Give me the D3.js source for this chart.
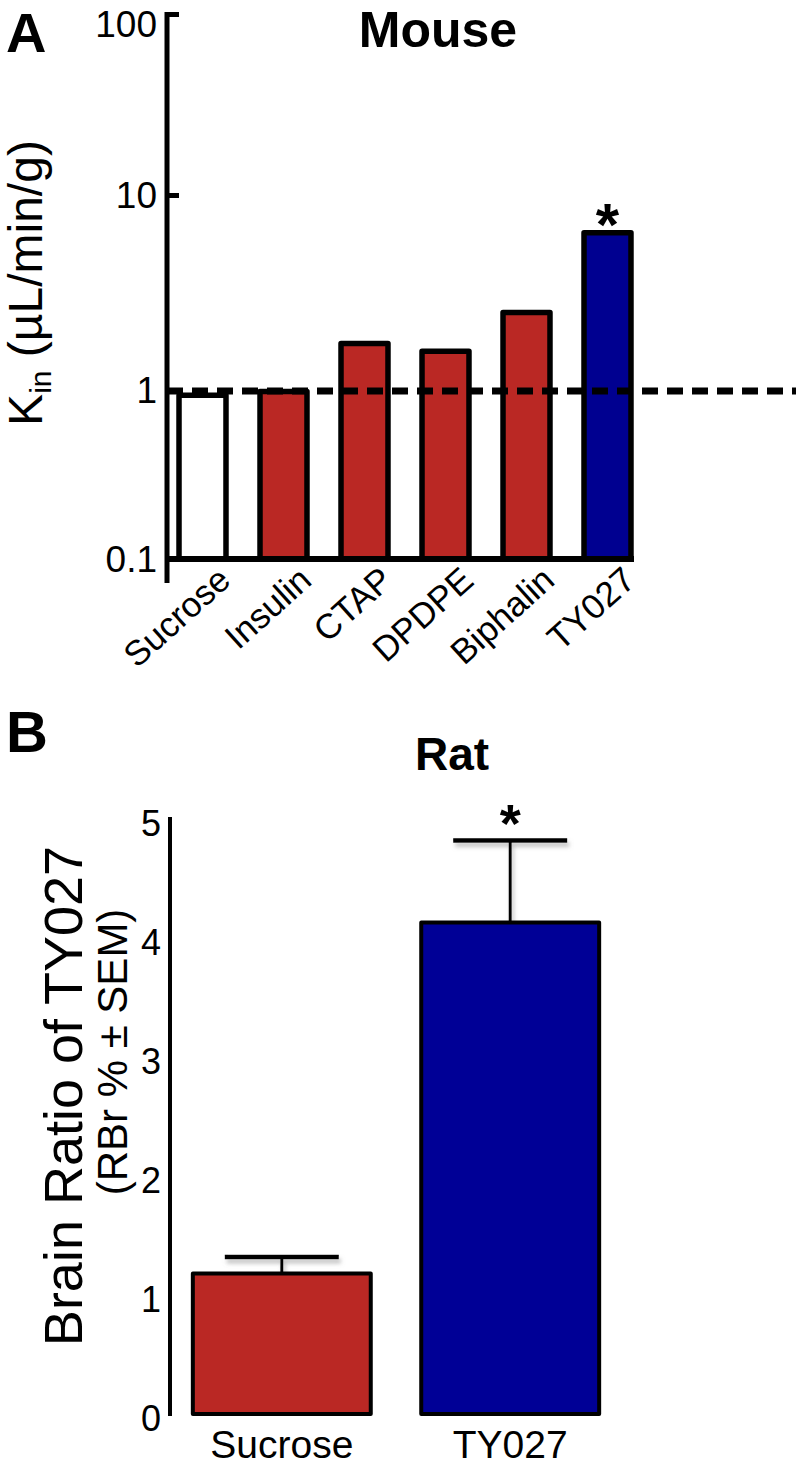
<!DOCTYPE html>
<html>
<head>
<meta charset="utf-8">
<script src="https://cdn.jsdelivr.net/npm/d3@7"></script>
<style>
  html, body { margin: 0; padding: 0; background: #fff; }
  svg { display: block; font-family: "Liberation Sans", Arial, sans-serif; }
</style>
</head>
<body>
<svg id="chart" width="798" height="1465"></svg>
<script>
// ---- Panel A (Mouse) data ----
const mouseCategories = ["Sucrose", "Insulin", "CTAP", "DPDPE", "Biphalin", "TY027"];
const mouseKin = [0.93, 0.98, 1.73, 1.58, 2.5, 6.4];
const mouseFill = ["#ffffff", "#ba2824", "#ba2824", "#ba2824", "#ba2824", "#000090"];
const mouseSignificant = [false, false, false, false, false, true];
const mouseTicks = [0.1, 1, 10, 100];
const mouseTickLabels = ["0.1", "1", "10", "100"];
const mouseReference = 1;

// ---- Panel B (Rat) data ----
const ratCategories = ["Sucrose", "TY027"];
const ratMean = [1.18, 4.13];
const ratSEM = [0.14, 0.69];
const ratFill = ["#ba2824", "#000096"];
const ratSignificant = [false, true];
const ratTicks = [0, 1, 2, 3, 4, 5];

const svg = d3.select("#chart");

const defs = svg.append("defs");
const f = defs.append("filter").attr("id", "shadow").attr("x", "-20%").attr("y", "-50%").attr("width", "140%").attr("height", "300%");
f.append("feDropShadow").attr("dx", 2).attr("dy", 4).attr("stdDeviation", 2)
  .attr("flood-color", "#888").attr("flood-opacity", 0.55);

// ================= Panel A =================
const yA = d3.scaleLog().domain([0.1, 1, 10, 100]).range([559, 390, 195, 14]);
const xA = d3.scaleBand().domain(mouseCategories).range([162, 648])
  .paddingInner(0.42).paddingOuter(0.21);
const axisXA = 167;

const gA = svg.append("g");

// panel letter & title
gA.append("text").attr("x", 6).attr("y", 52).attr("font-size", 56).attr("font-weight", "bold").text("A");
gA.append("text").attr("x", 438).attr("y", 47).attr("text-anchor", "middle")
  .attr("font-size", 50).attr("font-weight", "bold").text("Mouse");

// bars
gA.selectAll("rect.bar").data(mouseCategories).join("rect")
  .attr("class", "bar")
  .attr("x", d => xA(d))
  .attr("width", xA.bandwidth())
  .attr("y", (d, i) => yA(mouseKin[i]))
  .attr("height", (d, i) => yA(0.1) - yA(mouseKin[i]))
  .attr("fill", (d, i) => mouseFill[i])
  .attr("stroke", "#000").attr("stroke-width", 5.5).attr("stroke-linejoin", "round");

// baseline
gA.append("line").attr("x1", axisXA).attr("x2", xA.range()[1] - 14)
  .attr("y1", yA(0.1)).attr("y2", yA(0.1))
  .attr("stroke", "#000").attr("stroke-width", 6);

// dashed reference line
gA.append("line").attr("x1", axisXA).attr("x2", 796)
  .attr("y1", yA(mouseReference) + 1).attr("y2", yA(mouseReference) + 1)
  .attr("stroke", "#000").attr("stroke-width", 7).attr("stroke-dasharray", "16,9");

// y axis
const axA = d3.axisLeft(yA).tickValues(mouseTicks)
  .tickFormat((d, i) => mouseTickLabels[i])
  .tickSizeInner(-12).tickSizeOuter(0).tickPadding(10);
const gAxA = gA.append("g").attr("transform", `translate(${axisXA},0)`).call(axA);
gAxA.select(".domain").remove();
gAxA.selectAll(".tick line").attr("stroke", "#000").attr("stroke-width", 5);
gAxA.selectAll(".tick text").attr("font-size", 37).attr("font-family", "Liberation Sans, Arial, sans-serif").attr("fill", "#000")
  .attr("dy", d => d === 100 ? "0.62em" : "0.34em");
gA.append("line").attr("x1", axisXA).attr("x2", axisXA)
  .attr("y1", yA(100) - 2).attr("y2", yA(0.1) + 24)
  .attr("stroke", "#000").attr("stroke-width", 5);

// y label
const lblA = gA.append("text").attr("transform", "translate(42,283) rotate(-90)")
  .attr("text-anchor", "middle").attr("font-size", 48);
lblA.append("tspan").text("K");
lblA.append("tspan").attr("font-size", 30).attr("dy", 9).text("in");
lblA.append("tspan").attr("dy", -9).text(" (µL/min/g)");

// category labels
gA.selectAll("text.cat").data(mouseCategories).join("text")
  .attr("class", "cat")
  .attr("text-anchor", "end")
  .attr("font-size", 35)
  .attr("transform", d => `translate(${xA(d) + xA.bandwidth() / 2 + 30},${yA(0.1) + 24}) rotate(-42)`)
  .text(d => d);

// significance
gA.selectAll("text.sig").data(mouseCategories.filter((d, i) => mouseSignificant[i])).join("text")
  .attr("class", "sig").attr("text-anchor", "middle").attr("font-size", 60).attr("font-weight", "bold")
  .attr("x", d => xA(d) + xA.bandwidth() / 2)
  .attr("y", d => yA(mouseKin[mouseCategories.indexOf(d)]) + 12)
  .text("*");

// ================= Panel B =================
const yB = d3.scaleLinear().domain([0, 5]).range([1414, 819]);
const xB = d3.scaleBand().domain(ratCategories).range([170, 622])
  .paddingInner(0.221).paddingOuter(0.1);
const axisXB = 170;
const gB = svg.append("g");

gB.append("text").attr("x", 6).attr("y", 752).attr("font-size", 58).attr("font-weight", "bold").text("B");
gB.append("text").attr("x", 452).attr("y", 770).attr("text-anchor", "middle")
  .attr("font-size", 46).attr("font-weight", "bold").text("Rat");

// error bars
const errG = gB.append("g").attr("filter", "url(#shadow)");
ratCategories.forEach((c, i) => {
  const cx = xB(c) + xB.bandwidth() / 2;
  errG.append("line").attr("x1", cx).attr("x2", cx)
    .attr("y1", yB(ratMean[i])).attr("y2", yB(ratMean[i] + ratSEM[i]))
    .attr("stroke", "#000").attr("stroke-width", 3);
  errG.append("line").attr("x1", cx - 57).attr("x2", cx + 57)
    .attr("y1", yB(ratMean[i] + ratSEM[i])).attr("y2", yB(ratMean[i] + ratSEM[i]))
    .attr("stroke", "#000").attr("stroke-width", 4.5);
});

// bars
gB.selectAll("rect.bar").data(ratCategories).join("rect")
  .attr("class", "bar")
  .attr("x", d => xB(d))
  .attr("width", xB.bandwidth())
  .attr("y", (d, i) => yB(ratMean[i]))
  .attr("height", (d, i) => yB(0) - yB(ratMean[i]))
  .attr("fill", (d, i) => ratFill[i])
  .attr("stroke", "#000").attr("stroke-width", 4).attr("stroke-linejoin", "round");

// axes with shadow
const axB = d3.axisLeft(yB).tickValues(ratTicks).tickFormat(d3.format("d"))
  .tickSizeInner(-10).tickSizeOuter(0).tickPadding(9);
const gAxB = gB.append("g").attr("transform", `translate(${axisXB},0)`).call(axB);
gAxB.select(".domain").remove();
gAxB.selectAll(".tick line").attr("stroke", "#000").attr("stroke-width", 4).attr("filter", "url(#shadow)");
gAxB.selectAll(".tick text").attr("font-size", 36).attr("font-family", "Liberation Sans, Arial, sans-serif").attr("fill", "#000")
  .attr("dy", "0.45em");
gB.append("line").attr("x1", axisXB).attr("x2", axisXB).attr("y1", yB(5) - 2).attr("y2", yB(0) + 2)
  .attr("stroke", "#000").attr("stroke-width", 4);
gB.append("line").attr("x1", axisXB - 2).attr("x2", 635).attr("y1", yB(0)).attr("y2", yB(0))
  .attr("stroke", "#000").attr("stroke-width", 5).attr("filter", "url(#shadow)");

// y label
gB.append("text").attr("transform", "translate(82,1096) rotate(-90)")
  .attr("text-anchor", "middle").attr("font-size", 54).text("Brain Ratio of TY027");
gB.append("text").attr("transform", "translate(127,1052) rotate(-90)")
  .attr("text-anchor", "middle").attr("font-size", 42).text("(RBr % ± SEM)");

// x labels
gB.selectAll("text.cat").data(ratCategories).join("text")
  .attr("class", "cat").attr("text-anchor", "middle").attr("font-size", 39)
  .attr("x", d => xB(d) + xB.bandwidth() / 2).attr("y", 1458)
  .text(d => d);

// significance
gB.selectAll("text.sig").data(ratCategories.filter((d, i) => ratSignificant[i])).join("text")
  .attr("class", "sig").attr("text-anchor", "middle").attr("font-size", 54).attr("font-weight", "bold")
  .attr("x", d => xB(d) + xB.bandwidth() / 2)
  .attr("y", d => { const i = ratCategories.indexOf(d); return yB(ratMean[i] + ratSEM[i]) + 2; })
  .text("*");
</script>
</body>
</html>
